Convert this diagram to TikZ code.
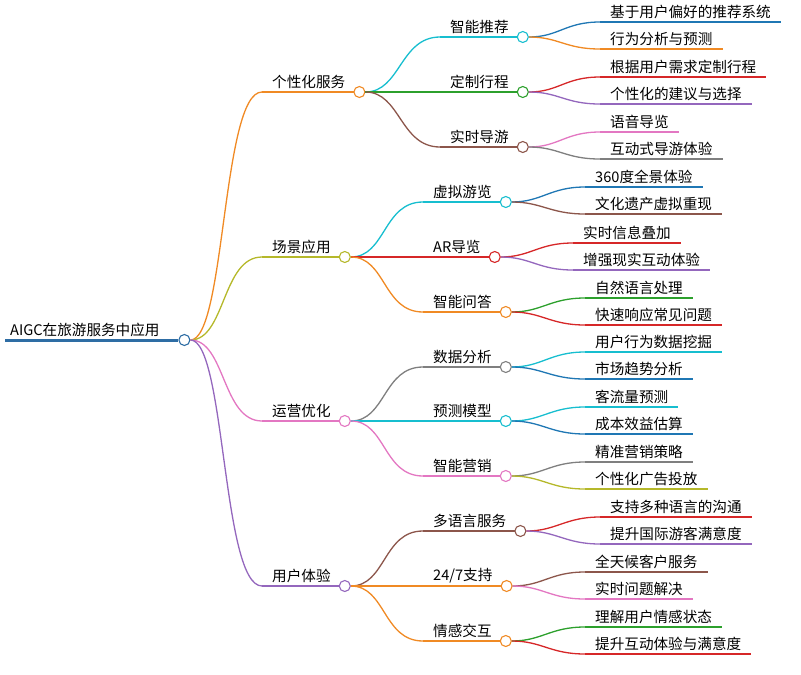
\documentclass[tikz,border=0pt]{standalone}
\usepackage{fontspec}
\setmainfont{Noto Sans CJK SC}
\begin{document}
\begin{tikzpicture}[x=1pt,y=-1pt,
  lab/.style={anchor=south west,inner xsep=10pt,inner ysep=3pt,font=\fontsize{14.6}{16}\selectfont},
  dot/.style={circle,draw,fill=white,line width=1.1pt,minimum size=11pt,inner sep=0pt},
  ln/.style={line width=1.3pt},
  ed/.style={line width=1.3pt}]
\useasboundingbox (0,0) rectangle (801,675);
\definecolor{cO}{HTML}{F08A24}\definecolor{cY}{HTML}{B5B82A}\definecolor{cP}{HTML}{E377C2}
\definecolor{cV}{HTML}{9467BD}\definecolor{cT}{HTML}{17BECF}\definecolor{cG}{HTML}{2CA02C}
\definecolor{cB}{HTML}{8C564B}\definecolor{cR}{HTML}{D62728}\definecolor{cS}{HTML}{1F77B4}
\definecolor{cK}{HTML}{7F7F7F}\definecolor{root}{HTML}{2E6DA4}
% root
\node[lab,inner xsep=5pt,text width=163pt,align=left] (r) at (5,340) {AIGC在旅游服务中应用};
\draw[root,line width=3pt] (r.south west) -- (r.south east);
\node[dot,draw=root] (rc) at ([xshift=6pt]r.south east) {};
% helpers
\newcommand\midnode[6]{% name, xs, y, text, color, parent
  \node[lab] (#1) at (#2,#3) {#4};
  \draw[ed,#5] (#6.east) .. controls +(35,0) and +(-40,0) .. (#1.south west);
  \draw[ln,#5] (#1.south west) -- (#1.south east);
  \node[dot,draw=#5] (#1c) at ([xshift=4pt]#1.south east) {};}
\newcommand\leaf[6]{%
  \node[lab] (#1) at (#2,#3) {#4};
  \draw[ed,#5] (#6.east) .. controls +(30,0) and +(-35,0) .. (#1.south west);
  \draw[ln,#5] (#1.south west) -- (#1.south east);}
% level 1
\midnode{a}{262}{92}{个性化服务}{cO}{rc}
\midnode{b}{262}{257}{场景应用}{cY}{rc}
\midnode{c}{262}{421}{运营优化}{cP}{rc}
\midnode{d}{262}{586}{用户体验}{cV}{rc}
% level 2
\midnode{a1}{440}{37}{智能推荐}{cT}{ac}
\midnode{a2}{440}{92}{定制行程}{cG}{ac}
\midnode{a3}{440}{147}{实时导游}{cB}{ac}
\midnode{b1}{423}{202}{虚拟游览}{cT}{bc}
\midnode{b2}{423}{257}{AR导览}{cR}{bc}
\midnode{b3}{423}{312}{智能问答}{cO}{bc}
\midnode{c1}{423}{367}{数据分析}{cK}{cc}
\midnode{c2}{423}{421}{预测模型}{cT}{cc}
\midnode{c3}{423}{476}{智能营销}{cP}{cc}
\midnode{d1}{423}{531}{多语言服务}{cB}{dc}
\midnode{d2}{423}{586}{24/7支持}{cO}{dc}
\midnode{d3}{423}{641}{情感交互}{cO}{dc}
% leaves
\leaf{a11}{600}{22}{基于用户偏好的推荐系统}{cS}{a1c}
\leaf{a12}{600}{49}{行为分析与预测}{cO}{a1c}
\leaf{a21}{600}{77}{根据用户需求定制行程}{cR}{a2c}
\leaf{a22}{600}{104}{个性化的建议与选择}{cV}{a2c}
\leaf{a31}{600}{132}{语音导览}{cP}{a3c}
\leaf{a32}{600}{159}{互动式导游体验}{cK}{a3c}
\leaf{b11}{585}{187}{360度全景体验}{cS}{b1c}
\leaf{b12}{585}{214}{文化遗产虚拟重现}{cB}{b1c}
\leaf{b21}{573}{243}{实时信息叠加}{cR}{b2c}
\leaf{b22}{573}{270}{增强现实互动体验}{cV}{b2c}
\leaf{b31}{585}{298}{自然语言处理}{cG}{b3c}
\leaf{b32}{585}{325}{快速响应常见问题}{cR}{b3c}
\leaf{c11}{585}{352}{用户行为数据挖掘}{cT}{c1c}
\leaf{c12}{585}{379}{市场趋势分析}{cS}{c1c}
\leaf{c21}{585}{407}{客流量预测}{cT}{c2c}
\leaf{c22}{585}{434}{成本效益估算}{cS}{c2c}
\leaf{c31}{585}{462}{精准营销策略}{cK}{c3c}
\leaf{c32}{585}{489}{个性化广告投放}{cY}{c3c}
\leaf{d11}{600}{517}{支持多种语言的沟通}{cR}{d1c}
\leaf{d12}{600}{544}{提升国际游客满意度}{cV}{d1c}
\leaf{d21}{585}{572}{全天候客户服务}{cB}{d2c}
\leaf{d22}{585}{599}{实时问题解决}{cP}{d2c}
\leaf{d31}{585}{627}{理解用户情感状态}{cG}{d3c}
\leaf{d32}{585}{654}{提升互动体验与满意度}{cR}{d3c}
\end{tikzpicture}
\end{document}
